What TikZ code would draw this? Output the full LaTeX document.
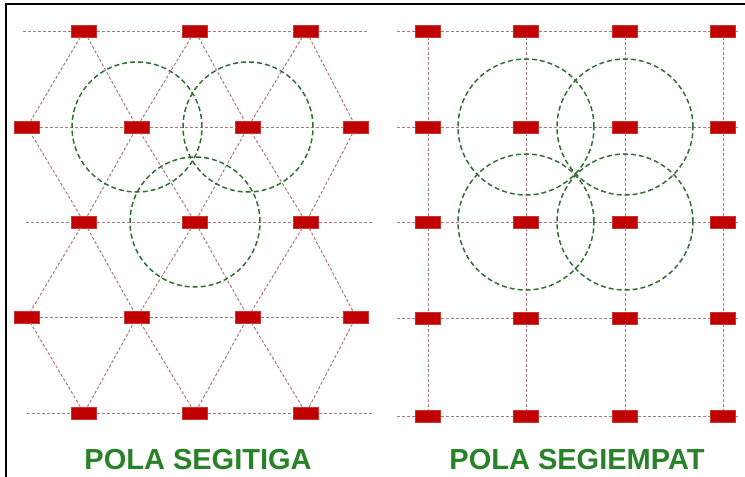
\documentclass[tikz,border=0pt]{standalone}
\usepackage{fontspec}
\setmainfont{Liberation Sans}
\definecolor{polered}{RGB}{192,0,0}
\definecolor{gridred}{RGB}{175,120,120}
\definecolor{ringgreen}{RGB}{50,110,50}
\definecolor{titlegreen}{RGB}{40,130,40}
\tikzset{
  pole/.style={draw=polered!80!white,fill=polered,minimum width=25pt,minimum height=12pt,inner sep=0pt,line width=0.6pt},
  gridline/.style={gridred,line width=1pt,dash pattern=on 3pt off 2pt},
  ring/.style={ringgreen,line width=1.5pt,dash pattern=on 5pt off 3pt},
  title/.style={text=titlegreen,font=\fontsize{29}{32}\selectfont\bfseries,anchor=base,inner sep=0pt}
}
\begin{document}
\begin{tikzpicture}[x=1pt,y=-1pt]
\useasboundingbox (0,0) rectangle (745,477);
\draw[line width=2.5pt] (6,477)--(6,4)--(745,4);

\foreach \y/\r in {31/1,222/3,413/5}
  \foreach \x/\c in {84/1,195/2,306/3}
    \node[pole] (t\r\c) at (\x,\y) {};
\foreach \y/\r in {127/2,317/4}
  \foreach \x/\c in {27/1,137/2,248/3,356/4}
    \node[pole] (t\r\c) at (\x,\y) {};

\foreach \y/\r in {31/1,127/2,222/3,318/4,416/5}
  \foreach \x/\c in {428/1,526/2,625/3,723/4}
    \node[pole] (s\r\c) at (\x,\y) {};

\coordinate (tw1) at (23,31);  \coordinate (te1) at (368,31);
\coordinate (tw3) at (26,222); \coordinate (te3) at (372,222);
\coordinate (tw5) at (27,413); \coordinate (te5) at (372,413);

\foreach \r in {1,3,5}
  \draw[gridline] (tw\r)--(t\r1)--(t\r2)--(t\r3)--(te\r);
\foreach \r in {2,4}
  \draw[gridline] (t\r1)--(t\r2)--(t\r3)--(t\r4);
\foreach \o/\e in {1/2,3/2,3/4,5/4}
  \foreach \c [count=\d from 2] in {1,2,3}
  {
    \draw[gridline] (t\o\c)--(t\e\c);
    \draw[gridline] (t\o\c)--(t\e\d);
  }

\foreach \y/\r in {31/1,127/2,222/3,318/4,416/5}
{
  \coordinate (sw\r) at (397,\y);
  \coordinate (se\r) at (738,\y);
  \draw[gridline] (sw\r)--(s\r1)--(s\r2)--(s\r3)--(s\r4)--(se\r);
}
\foreach \c in {1,2,3,4}
  \draw[gridline] (s1\c)--(s2\c)--(s3\c)--(s4\c)--(s5\c);

\draw[ring] (t22) circle[radius=65pt];
\draw[ring] (t23) circle[radius=65pt];
\draw[ring] (t32) circle[radius=65pt];

\draw[ring] (s22) circle[radius=68pt];
\draw[ring] (s23) circle[radius=68pt];
\draw[ring] (s32) circle[radius=68pt];
\draw[ring] (s33) circle[radius=68pt];

\node[title] (segitiga) at (198,469) {POLA SEGITIGA};
\node[title] (segiempat) at (577,469) {POLA SEGIEMPAT};
\end{tikzpicture}
\end{document}
